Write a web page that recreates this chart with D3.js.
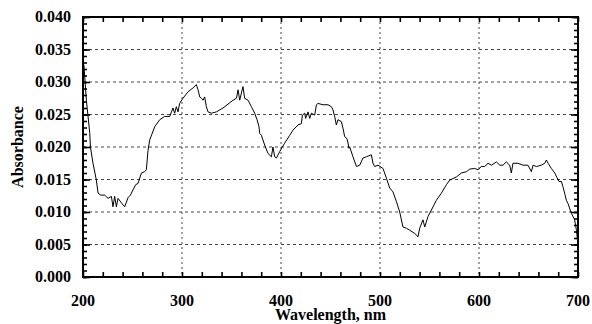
<!DOCTYPE html>
<html>
<head>
<meta charset="utf-8">
<script src="https://cdn.jsdelivr.net/npm/d3@7"></script>
<style>
  body { margin: 0; background: #fff; }
  text { font-family: "Liberation Serif", "Times New Roman", serif; font-weight: bold; }
</style>
</head>
<body>
<div id="chart"></div>
<script>
// wavelength (nm) and absorbance
var wavelength = [200, 201, 203.4, 206.8, 207.5, 210.1, 213.5, 215.2, 218, 221.9, 225.3, 228.7, 230.3, 232, 233.7, 235.4, 238.8, 242.1, 245.5, 247.9,
  250.5, 253.2, 255.6, 259, 262.3, 264, 265.7, 267.4, 272.4, 277.5, 282.5, 287.6, 290.9, 292.6, 294.3, 296, 297.6, 301, 306.1, 311.2,
  314.5, 316.2, 317.9, 319.6, 321.3, 322.9, 324.6, 326.3, 329.7, 334.7, 341.4, 346.5, 351.5, 355, 356.6, 358.3, 360, 361.6, 363.3, 366.7,
  370.1, 373.4, 375.8, 377.8, 378.5, 380.2, 383.5, 386.9, 390.3, 391.9, 393.6, 395.4, 398.7, 403.7, 408.8, 412.2, 417.2, 420.6, 421.6, 423.9,
  424.9, 427.3, 429, 430.7, 434, 435.8, 437.4, 442.4, 447.5, 450.9, 452.5, 454.2, 455.9, 457.6, 461, 462.6, 464.3, 466.6, 467.7, 468.7,
  469.4, 472.7, 476.2, 479.5, 482.8, 486.2, 491.3, 492.9, 494.6, 498, 503, 506.5, 509.8, 513.1, 516.6, 519.9, 523.2, 526.7, 530, 535.1,
  538.4, 540.1, 543.4, 545.2, 548.5, 551.9, 556.9, 562, 567.1, 570.4, 577.2, 582.2, 587.3, 590.6, 595.6, 599, 602.4, 605.8, 609.1, 612.5,
  617.6, 621, 624.2, 627.6, 631, 632.7, 634.3, 639.4, 644.4, 649.5, 652.9, 654.6, 658, 663, 666.4, 668.1, 669.8, 673.1, 676.5, 678.8,
  680.8, 683.2, 684.8, 686.5, 688.2, 689.9, 693.3, 696.6, 698.4, 700];
var absorbance = [0.0330, 0.0325, 0.0272, 0.0222, 0.0200, 0.0175, 0.0149, 0.0129, 0.0126, 0.0126, 0.0121, 0.0124, 0.0108, 0.0124, 0.0108, 0.0121, 0.0114, 0.0108, 0.0122, 0.0126,
  0.0134, 0.0142, 0.0144, 0.0160, 0.0162, 0.0165, 0.0195, 0.0211, 0.0231, 0.0242, 0.0247, 0.0247, 0.0260, 0.0252, 0.0262, 0.0254, 0.0267, 0.0275, 0.0285, 0.0291,
  0.0296, 0.0288, 0.0277, 0.0275, 0.0272, 0.0277, 0.0262, 0.0254, 0.0252, 0.0254, 0.0260, 0.0266, 0.0272, 0.0275, 0.0288, 0.0272, 0.0283, 0.0293, 0.0275, 0.0272,
  0.0262, 0.0252, 0.0242, 0.0231, 0.0221, 0.0218, 0.0203, 0.0190, 0.0185, 0.0200, 0.0185, 0.0183, 0.0193, 0.0206, 0.0218, 0.0226, 0.0234, 0.0236, 0.0249, 0.0252,
  0.0244, 0.0254, 0.0244, 0.0252, 0.0249, 0.0265, 0.0267, 0.0265, 0.0265, 0.0262, 0.0257, 0.0247, 0.0234, 0.0242, 0.0239, 0.0229, 0.0216, 0.0213, 0.0206, 0.0198,
  0.0200, 0.0185, 0.0170, 0.0172, 0.0183, 0.0185, 0.0188, 0.0175, 0.0170, 0.0172, 0.0167, 0.0152, 0.0137, 0.0131, 0.0116, 0.0100, 0.0077, 0.0075, 0.0072, 0.0067,
  0.0062, 0.0075, 0.0088, 0.0077, 0.0093, 0.0103, 0.0118, 0.0129, 0.0142, 0.0149, 0.0154, 0.0160, 0.0162, 0.0166, 0.0167, 0.0165, 0.0170, 0.0170, 0.0175, 0.0172,
  0.0177, 0.0172, 0.0172, 0.0177, 0.0172, 0.0160, 0.0175, 0.0175, 0.0172, 0.0172, 0.0162, 0.0172, 0.0170, 0.0172, 0.0175, 0.0180, 0.0175, 0.0167, 0.0160, 0.0153,
  0.0147, 0.0147, 0.0139, 0.0129, 0.0118, 0.0113, 0.0098, 0.0088, 0.0072, 0.0050];
var xTicks = [200, 300, 400, 500, 600, 700];
var yTicks = [0, 0.005, 0.010, 0.015, 0.020, 0.025, 0.030, 0.035, 0.040];

var data = wavelength.map(function(w, i) { return {w: w, a: absorbance[i]}; });

var margin = {top: 17, right: 14, bottom: 47, left: 83},
    width = 592 - margin.left - margin.right,
    height = 324 - margin.top - margin.bottom;

var svg = d3.select("#chart")
  .append("svg")
    .attr("width", 592)
    .attr("height", 324)
  .append("g")
    .attr("transform", "translate(" + margin.left + "," + margin.top + ")");

var x = d3.scaleLinear().domain([200, 700]).range([0, width]);
var y = d3.scaleLinear().domain([0, 0.040]).range([height, 0]);

// dotted grid
svg.append("g").selectAll("line").data(xTicks.slice(1, -1)).join("line")
  .attr("x1", function(d) { return x(d); }).attr("x2", function(d) { return x(d); })
  .attr("y1", 0).attr("y2", height)
  .attr("stroke", "#444").attr("stroke-width", 1).attr("stroke-dasharray", "2,3");
svg.append("g").selectAll("line").data(yTicks.slice(1, -1)).join("line")
  .attr("y1", function(d) { return y(d); }).attr("y2", function(d) { return y(d); })
  .attr("x1", 0).attr("x2", width)
  .attr("stroke", "#444").attr("stroke-width", 1).attr("stroke-dasharray", "3,3");

// inward ticks on all four sides
var xMinor = d3.range(200, 701, 20);
var yMinor = d3.range(0, 41).map(function(i) { return i / 1000; });

svg.append("g").call(d3.axisBottom(x).tickValues(xMinor).tickSize(-5).tickFormat(""))
  .attr("transform", "translate(0," + height + ")");
svg.append("g").call(d3.axisTop(x).tickValues(xMinor).tickSize(-5).tickFormat(""));
svg.append("g").call(d3.axisLeft(y).tickValues(yMinor).tickSize(-4).tickFormat(""));
svg.append("g").call(d3.axisRight(y).tickValues(yMinor).tickSize(-4).tickFormat(""))
  .attr("transform", "translate(" + width + ",0)");
svg.append("g").call(d3.axisLeft(y).tickValues(yTicks).tickSize(-7).tickFormat(""));
svg.append("g").call(d3.axisRight(y).tickValues(yTicks).tickSize(-7).tickFormat(""))
  .attr("transform", "translate(" + width + ",0)");
svg.selectAll(".domain").remove();
svg.selectAll(".tick line").attr("stroke", "#000").attr("stroke-width", 1.6);

// tick labels
svg.append("g").selectAll("text").data(xTicks).join("text")
  .attr("x", function(d) { return x(d); })
  .attr("y", height + 29)
  .attr("text-anchor", "middle")
  .style("font-size", "16px")
  .text(function(d) { return d; });
svg.append("g").selectAll("text").data(yTicks).join("text")
  .attr("x", -12)
  .attr("y", function(d) { return y(d); })
  .attr("dy", "0.33em")
  .attr("text-anchor", "end")
  .style("font-size", "16px")
  .text(function(d) { return d3.format(".3f")(d); });

// spectrum
svg.append("path")
  .datum(data)
  .attr("fill", "none")
  .attr("stroke", "#000")
  .attr("stroke-width", 1)
  .attr("stroke-linejoin", "round")
  .attr("d", d3.line()
    .x(function(d) { return x(d.w); })
    .y(function(d) { return y(d.a); }));

// frame
svg.append("rect")
  .attr("width", width).attr("height", height)
  .attr("fill", "none").attr("stroke", "#000").attr("stroke-width", 2);

// axis titles
svg.append("text")
  .attr("x", width / 2).attr("y", height + 43)
  .attr("text-anchor", "middle")
  .style("font-size", "16px")
  .text("Wavelength, nm");
svg.append("text")
  .attr("transform", "translate(" + (23 - margin.left) + "," + (height / 2) + ") rotate(-90)")
  .attr("text-anchor", "middle")
  .style("font-size", "16px")
  .text("Absorbance");
</script>
</body>
</html>
